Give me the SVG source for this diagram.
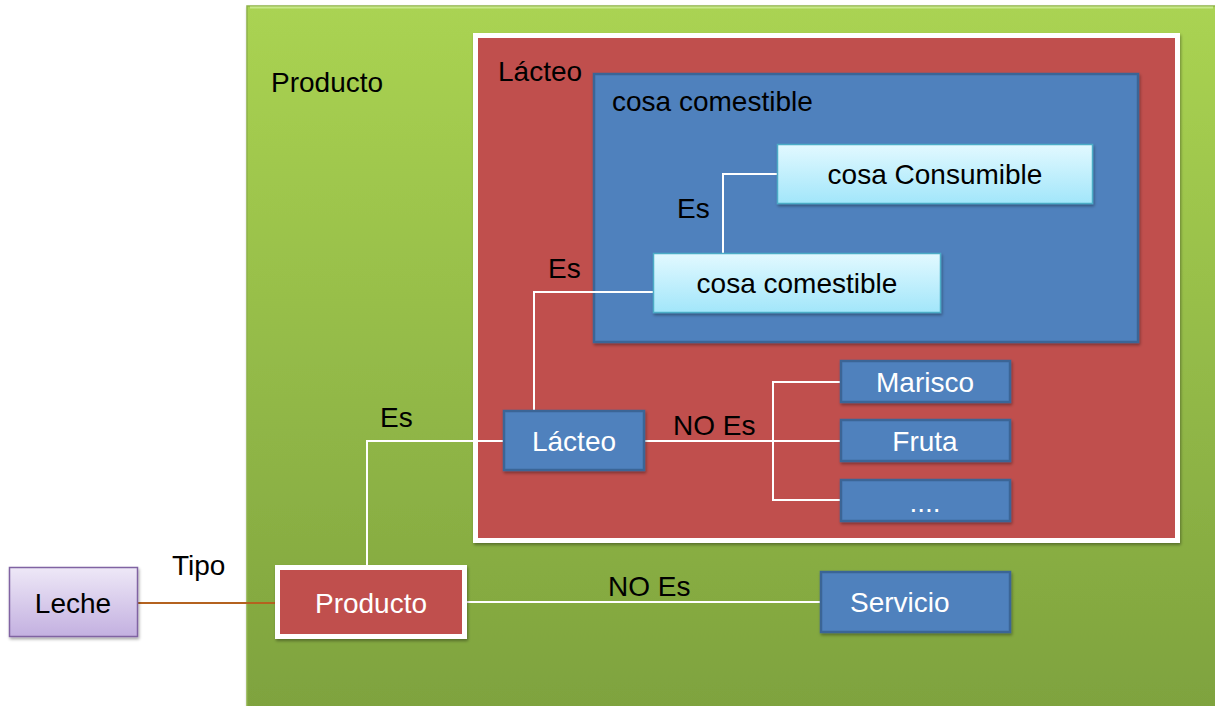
<svg xmlns="http://www.w3.org/2000/svg" width="1215" height="706" viewBox="0 0 1215 706">
<defs>
<linearGradient id="gGreen" x1="0" y1="0" x2="0" y2="1">
<stop offset="0" stop-color="#aad352"/>
<stop offset="1" stop-color="#7ea23e"/>
</linearGradient>
<linearGradient id="gCyan" x1="0" y1="0" x2="0" y2="1">
<stop offset="0" stop-color="#e2f9ff"/>
<stop offset="1" stop-color="#a2e6fa"/>
</linearGradient>
<linearGradient id="gLav" x1="0" y1="0" x2="0" y2="1">
<stop offset="0" stop-color="#eee8f7"/>
<stop offset="1" stop-color="#c3b0e0"/>
</linearGradient>
<filter id="sh" x="-10%" y="-10%" width="120%" height="130%">
<feDropShadow dx="1" dy="2" stdDeviation="1.5" flood-color="#000" flood-opacity="0.35"/>
</filter>
<style>
text{font-family:"Liberation Sans",Arial,sans-serif;font-size:28px;fill:#000}
.w{fill:#fff}
.c{text-anchor:middle}
.blue{fill:#4f81bd;stroke:#3a6596;stroke-width:2.5}
.red{fill:#c0504d;stroke:#fff;stroke-width:5}
.cyan{fill:url(#gCyan);stroke:#4bacc6;stroke-width:1.5}
.conn{fill:none;stroke:#fff;stroke-width:2}
</style>
</defs>
<rect width="1215" height="706" fill="#fff"/>
<g id="producto-area">
<rect x="247" y="6" width="975" height="710" fill="url(#gGreen)" stroke="#8fb24a" stroke-width="1.5" filter="url(#sh)"/>
<line x1="250" y1="7.5" x2="1213" y2="7.5" stroke="#c7e88a" stroke-width="2"/>
<text x="271" y="92">Producto</text>
</g>
<g id="lacteo-area">
<rect class="red" x="475.5" y="35.5" width="702" height="505" filter="url(#sh)"/>
<text x="498" y="81">Lácteo</text>
</g>
<g id="comestible-area">
<rect class="blue" x="594" y="74" width="544" height="268" filter="url(#sh)"/>
<text x="612" y="111">cosa comestible</text>
</g>
<g id="connectors">
<line x1="138" y1="603" x2="277" y2="603" stroke="#b4621f" stroke-width="2"/>
<polyline class="conn" points="467,602 820,602"/>
<polyline class="conn" points="367,565 367,441 503,441"/>
<polyline class="conn" points="534,410 534,292 673,292"/>
<polyline class="conn" points="723,272 723,174 777,174"/>
<polyline class="conn" points="644,441 841,441"/>
<polyline class="conn" points="841,382 773,382 773,500 841,500"/>
</g>
<g id="labels">
<text x="172" y="575">Tipo</text>
<text x="608" y="596">NO Es</text>
<text x="380" y="427">Es</text>
<text x="548" y="278">Es</text>
<text x="677" y="218">Es</text>
<text x="673" y="435">NO Es</text>
</g>
<g id="cosa-consumible">
<rect class="cyan" x="777.5" y="144.5" width="315" height="59" filter="url(#sh)"/>
<text class="c" x="935" y="184">cosa Consumible</text>
</g>
<g id="cosa-comestible">
<rect class="cyan" x="653.5" y="253.5" width="287" height="59" filter="url(#sh)"/>
<text class="c" x="797" y="293">cosa comestible</text>
</g>
<g id="lacteo">
<rect class="blue" x="504" y="411" width="140" height="59" filter="url(#sh)"/>
<text class="c w" x="574" y="451">Lácteo</text>
</g>
<g id="marisco">
<rect class="blue" x="841" y="361" width="169" height="41" filter="url(#sh)"/>
<text class="c w" x="925" y="392">Marisco</text>
</g>
<g id="fruta">
<rect class="blue" x="841" y="420" width="169" height="41" filter="url(#sh)"/>
<text class="c w" x="925" y="451">Fruta</text>
</g>
<g id="otros">
<rect class="blue" x="841" y="480" width="169" height="41" filter="url(#sh)"/>
<text class="c w" x="925" y="512">....</text>
</g>
<g id="producto">
<rect class="red" x="277.5" y="567.5" width="187" height="69" filter="url(#sh)"/>
<text class="c w" x="371" y="613">Producto</text>
</g>
<g id="servicio">
<rect class="blue" x="821" y="572" width="189" height="60" filter="url(#sh)"/>
<text class="w" x="850" y="612">Servicio</text>
</g>
<g id="leche">
<rect x="9.5" y="567.5" width="128" height="69" fill="url(#gLav)" stroke="#8064a2" stroke-width="1.5" filter="url(#sh)"/>
<text class="c" x="73" y="613">Leche</text>
</g>
</svg>
